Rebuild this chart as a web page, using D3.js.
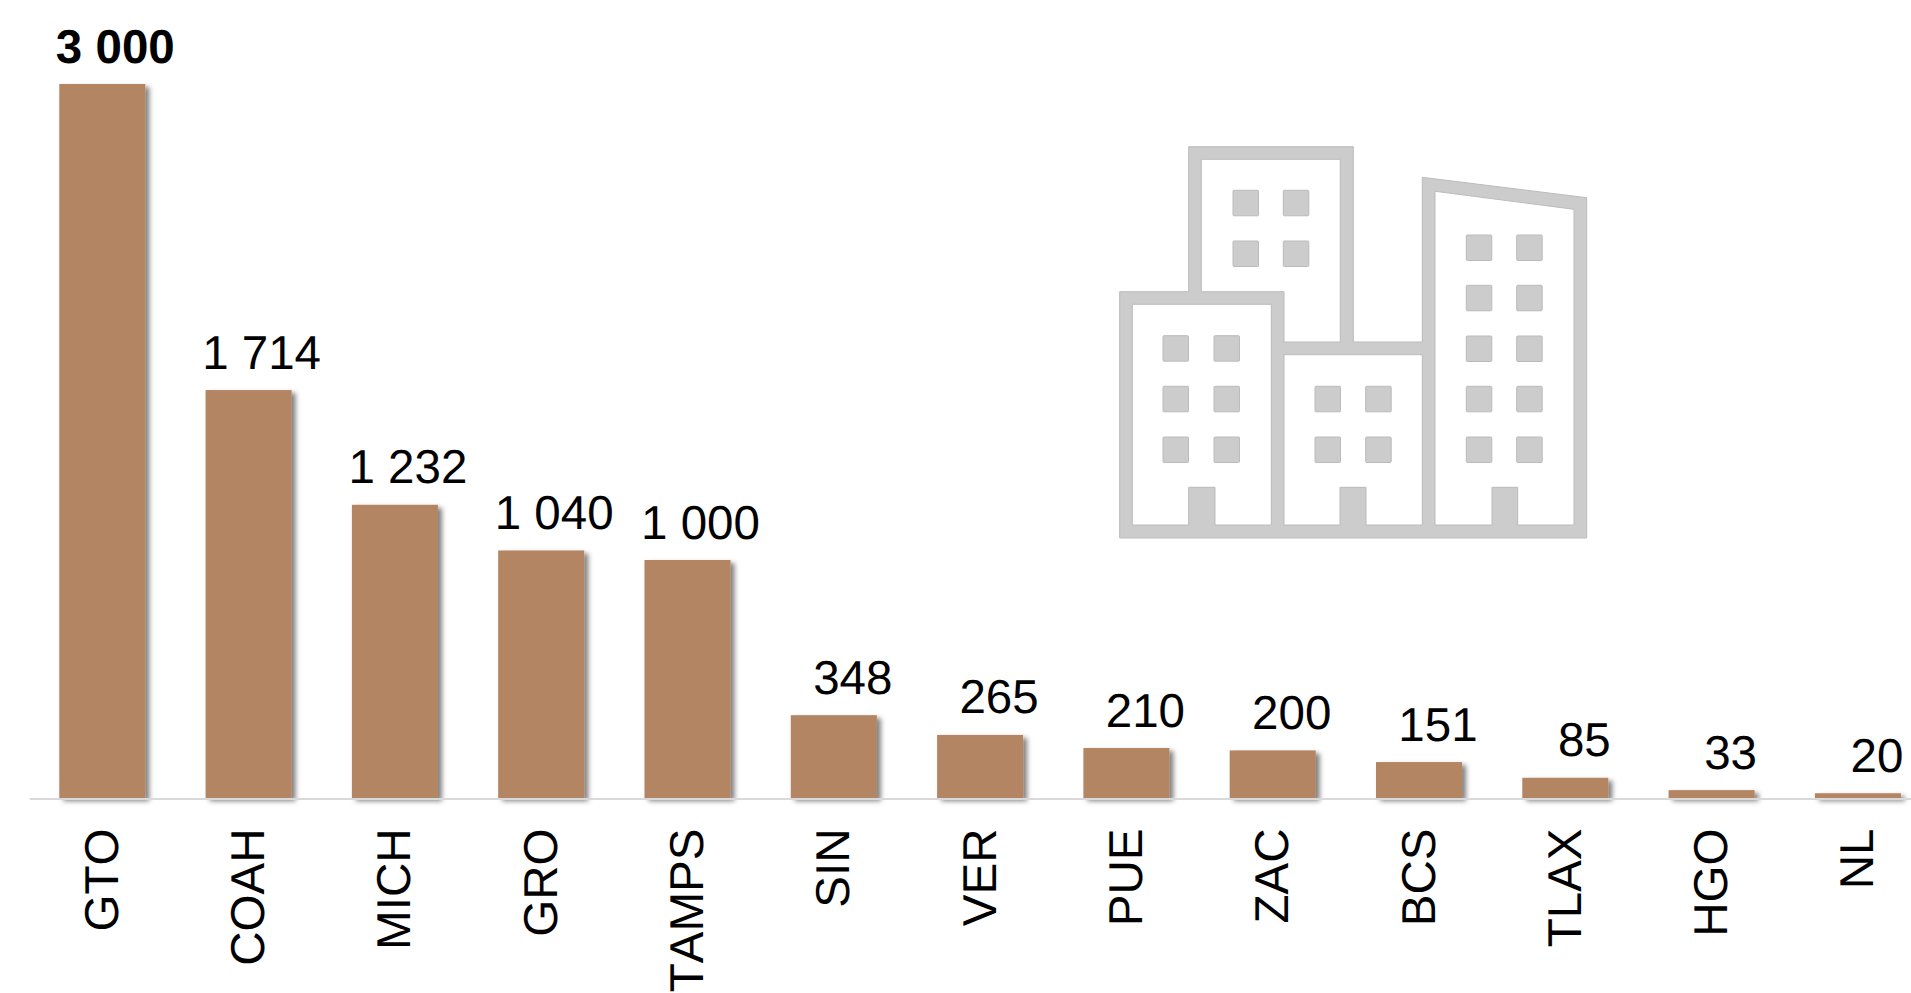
<!DOCTYPE html>
<html>
<head>
<meta charset="utf-8">
<style>
  html, body { margin: 0; padding: 0; background: #fff; overflow: hidden; }
  svg { display: block; }
  text { font-family: "Liberation Sans", Arial, sans-serif; fill: #000; text-rendering: geometricPrecision; font-kerning: none; }
</style>
<script src="https://cdn.jsdelivr.net/npm/d3@7"></script>
</head>
<body>
<div id="container"></div>
<script>
let categories = ['GTO', 'COAH', 'MICH', 'GRO', 'TAMPS', 'SIN', 'VER', 'PUE', 'ZAC', 'BCS', 'TLAX', 'HGO', 'NL'],
  values = [3000, 1714, 1232, 1040, 1000, 348, 265, 210, 200, 151, 85, 33, 20],
  width = 1911,
  height = 993

// icon outline and rooms (evenodd holes)
let icon_shell = [[1119.7, 538], [1119.7, 291.7], [1188.7, 291.7], [1188.7, 146.7], [1353.3, 146.7], [1353.3, 342], [1422.3, 342], [1422.3, 177.3], [1586.7, 197.7], [1586.7, 538]],
  icon_rooms = [
    [[1132.3, 304.3], [1271.3, 304.3], [1271.3, 525], [1215, 525], [1215, 487.3], [1188.7, 487.3], [1188.7, 525], [1132.3, 525]],
    [[1201.3, 159.3], [1340.3, 159.3], [1340.3, 342], [1284, 342], [1284, 291.7], [1201.3, 291.7]],
    [[1284, 354.7], [1422.3, 354.7], [1422.3, 525], [1366, 525], [1366, 487.3], [1340, 487.3], [1340, 525], [1284, 525]],
    [[1435, 191.3], [1574, 209.3], [1574, 525], [1517.7, 525], [1517.7, 487.3], [1492, 487.3], [1492, 525], [1435, 525]]
  ],
  icon_windows = [
    { xs: [1233, 1283.3], ys: [190.3, 241] },
    { xs: [1163, 1214], ys: [335.7, 386.3, 437] },
    { xs: [1315, 1365.7], ys: [386.3, 437] },
    { xs: [1466.3, 1516.7], ys: [235, 285.3, 336, 386.3, 437] }
  ]

let svg = d3.select('#container')
  .append('svg')
  .attr('width', width)
  .attr('height', height)

let shadow = svg.append('defs')
  .append('filter')
  .attr('id', 'bar_shadow')
  .attr('filterUnits', 'userSpaceOnUse')
  .attr('x', 0)
  .attr('y', 0)
  .attr('width', width)
  .attr('height', height)

shadow.append('feDropShadow')
  .attr('dx', 4)
  .attr('dy', 3)
  .attr('stdDeviation', 2.5)
  .attr('flood-color', '#000')
  .attr('flood-opacity', 0.5)

// 比例尺
let scale_x = d3.scaleBand()
  .domain(categories)
  .range([29.15, 1931.05])
  .paddingInner(0.412)
  .paddingOuter(0.206)

let scale_y = d3.scaleLinear()
  .domain([0, 3000])
  .range([798, 84])

let format = d3.formatLocale({ decimal: '.', thousands: ' ', grouping: [3], currency: ['', ''] }).format(',')

// bars
svg.append('g')
  .selectAll('rect')
  .data(values)
  .enter().append('rect')
  .attr('x', function (d, i) { return scale_x(categories[i]) })
  .attr('y', function (d) { return scale_y(d) })
  .attr('width', scale_x.bandwidth())
  .attr('height', function (d) { return scale_y(0) - scale_y(d) })
  .attr('fill', '#b38562')
  .attr('filter', 'url(#bar_shadow)')

// value labels
svg.append('g')
  .selectAll('text')
  .data(values)
  .enter().append('text')
  .attr('x', function (d, i) {
    return scale_x(categories[i]) + scale_x.bandwidth() / 2 + (d >= 1000 ? 13 : 19)
  })
  .attr('y', function (d) { return scale_y(d) - 21.5 })
  .attr('text-anchor', 'middle')
  .attr('font-size', 47.5)
  .attr('font-weight', function (d, i) { return i === 0 ? 'bold' : 'normal' })
  .text(function (d) { return format(d) })

// 坐标轴
let x_axis = d3.axisBottom(scale_x).tickSize(0).tickSizeOuter(0)

let axis_g = svg.append('g')
  .attr('transform', 'translate(0,798.5)')
  .call(x_axis)

axis_g.select('.domain')
  .attr('stroke', '#d9d9d9')
  .attr('stroke-width', 2)

axis_g.selectAll('text')
  .attr('font-family', '"Liberation Sans", Arial, sans-serif')
  .attr('font-size', 47.5)
  .attr('fill', '#000')
  .attr('text-anchor', 'end')
  .attr('dominant-baseline', 'central')
  .attr('dx', 0)
  .attr('dy', 0)
  .attr('x', 0)
  .attr('y', 0)
  .attr('transform', 'translate(0,30) rotate(-90)')

// building icon
let to_path = function (pts) {
  return 'M' + pts.map(function (p) { return p[0] + ',' + p[1] }).join('L') + 'Z'
}

let icon = svg.append('g')
  .attr('fill', '#cccccc')
  .attr('stroke', '#bbbbbb')
  .attr('stroke-width', 1)

icon.append('path')
  .attr('fill-rule', 'evenodd')
  .attr('d', to_path(icon_shell) + icon_rooms.map(to_path).join(''))

icon_windows.forEach(function (block) {
  block.ys.forEach(function (wy) {
    block.xs.forEach(function (wx) {
      icon.append('rect')
        .attr('x', wx)
        .attr('y', wy)
        .attr('width', 25.5)
        .attr('height', 25.5)
        .attr('rx', 1)
    })
  })
})
</script>
</body>
</html>
